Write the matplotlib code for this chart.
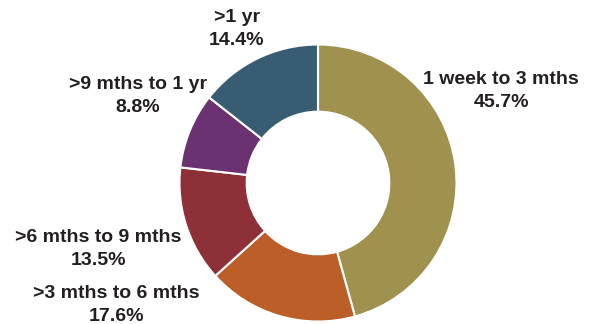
import matplotlib
matplotlib.use("Agg")
import matplotlib.pyplot as plt

categories = ["1 week to 3 mths", ">3 mths to 6 mths", ">6 mths to 9 mths",
              ">9 mths to 1 yr", ">1 yr"]
values = [45.7, 17.6, 13.5, 8.8, 14.4]
colors = ["#A0914F", "#BC5E27", "#8D3037", "#6C3171", "#385C72"]

# label anchor positions (pixels from top-left)
label_pos = [(501, 91), (116, 305), (98, 249), (138, 96), (237, 29)]

W, H = 595, 324
fig = plt.figure(figsize=(W / 100, H / 100), dpi=100)
ax = fig.add_axes([0, 0, 1, 1])

cx, cy, r = 318, H - 183, 138.5
ax.pie(values, colors=colors, startangle=90, counterclock=False,
       center=(cx, cy), radius=r, frame=True,
       wedgeprops=dict(width=r * 0.485, edgecolor="white", linewidth=1.5))
ax.set_xlim(0, W)
ax.set_ylim(0, H)
ax.set_aspect("equal")
ax.axis("off")

for cat, v, (x, y) in zip(categories, values, label_pos):
    ax.text(x, H - y, f"{cat}\n{v:.1f}%", ha="center", va="center",
            fontsize=14, fontweight="bold", family="Liberation Sans",
            color="#231F20", linespacing=1.4)

fig.savefig("out.png", dpi=100)
